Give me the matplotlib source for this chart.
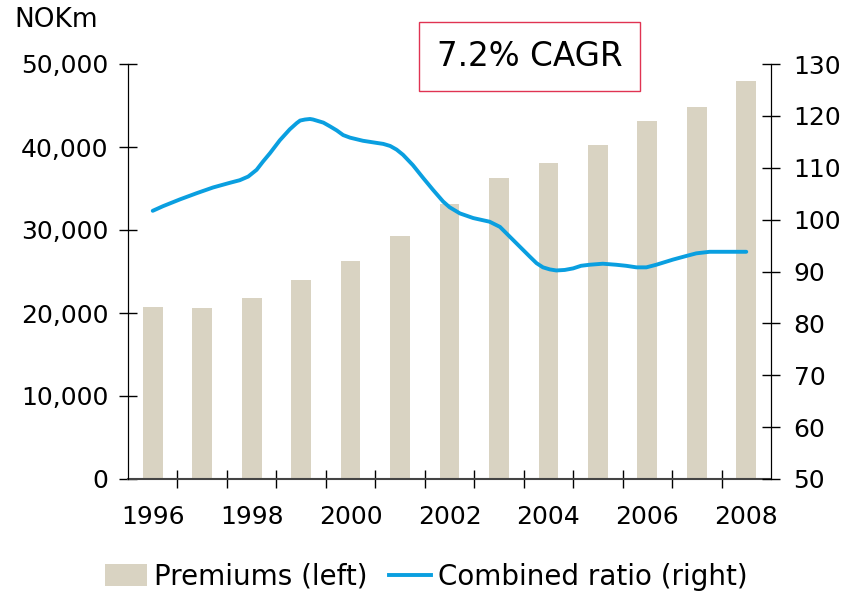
import matplotlib
matplotlib.use("Agg")
import matplotlib.pyplot as plt
from matplotlib.patches import Patch, Rectangle
from matplotlib.lines import Line2D
from matplotlib.ticker import FuncFormatter
import numpy as np

# premiums per year (NOKm, left axis)
years = [1996, 1997, 1998, 1999, 2000, 2001, 2002, 2003, 2004, 2005, 2006, 2007, 2008]
premiums = [20700, 20600, 21800, 24000, 26300, 29300, 33100, 36300, 38100, 40300, 43100, 44800, 48000]
year_labels = ["1996", "1998", "2000", "2002", "2004", "2006", "2008"]

# combined ratio (%, right axis), sampled along the smoothed curve
ratio_t = [1996.00, 1996.21, 1996.55, 1996.89, 1997.22, 1997.56, 1997.76, 1997.93,
           1998.10, 1998.23, 1998.37, 1998.57, 1998.77, 1998.91, 1998.98, 1999.08,
           1999.18, 1999.24, 1999.45, 1999.58, 1999.72, 1999.85, 1999.99, 2000.25,
           2000.52, 2000.66, 2000.80, 2000.93, 2001.06, 2001.26, 2001.47, 2001.67,
           2001.87, 2002.00, 2002.21, 2002.48, 2002.81, 2003.02, 2003.22, 2003.42,
           2003.62, 2003.76, 2003.89, 2004.03, 2004.16, 2004.33, 2004.50, 2004.66,
           2004.83, 2005.10, 2005.37, 2005.57, 2005.78, 2005.98, 2006.18, 2006.52,
           2006.79, 2006.99, 2007.26, 2007.53, 2008.00]
ratio = [101.7, 102.6, 103.9, 105.1, 106.2, 107.1, 107.6, 108.3,
         109.6, 111.2, 112.8, 115.3, 117.4, 118.6, 119.1, 119.3,
         119.4, 119.3, 118.7, 118.0, 117.2, 116.3, 115.8, 115.2,
         114.8, 114.6, 114.2, 113.5, 112.5, 110.5, 108.0, 105.7,
         103.5, 102.4, 101.2, 100.3, 99.6, 98.6, 96.7, 94.8,
         92.9, 91.6, 90.8, 90.4, 90.2, 90.3, 90.6, 91.1,
         91.3, 91.5, 91.3, 91.1, 90.8, 90.8, 91.3, 92.3,
         93.0, 93.5, 93.8, 93.8, 93.8]

cagr_text = "7.2% CAGR"
bar_color = "#d9d3c2"
line_color = "#0a9fe0"
fs = 18

plt.rcParams["font.family"] = ["DejaVu Sans"]

fig = plt.figure(figsize=(8.44, 5.95), dpi=100)
ax = fig.add_axes([128 / 844, 1 - 479 / 595, 643 / 844, 415 / 595])

x = np.arange(len(years))
ax.bar(x, premiums, width=0.40, color=bar_color, zorder=2)
ax.set_xlim(-0.5, len(years) - 0.5)
ax.set_ylim(0, 50000)
ax.set_yticks(np.arange(0, 50001, 10000))
ax.yaxis.set_major_formatter(FuncFormatter(lambda v, p: f"{int(v):,}"))

# labels on every other year, tick marks between categories
ax.set_xticks(x[::2])
ax.set_xticklabels(year_labels)
ax.set_xticks(x[:-1] + 0.5, minor=True)
ax.tick_params(axis="x", which="major", length=0, pad=19, labelsize=fs)
ax.tick_params(axis="x", which="minor", direction="inout", length=12.5, width=1.0)
ax.tick_params(axis="y", direction="inout", length=12.5, width=1.0, pad=8, labelsize=fs)

ax.spines["top"].set_visible(False)
ax.spines["bottom"].set_color("#444444")
ax.spines["bottom"].set_linewidth(1.5)

ax2 = ax.twinx()
ax2.plot(np.array(ratio_t) - years[0], ratio, color=line_color, lw=2.8,
         solid_joinstyle="round", solid_capstyle="round")
ax2.set_ylim(50, 130)
ax2.set_yticks(np.arange(50, 131, 10))
ax2.tick_params(axis="y", direction="inout", length=12.5, width=1.0, pad=10, labelsize=fs)
ax2.spines["top"].set_visible(False)
ax2.spines["bottom"].set_visible(False)

fig.text(14 / 844, 1 - 20 / 595, "NOKm", fontsize=19, va="center", ha="left")

# CAGR callout box
fig.patches.append(Rectangle((419 / 844, 1 - 91 / 595), 221 / 844, 69 / 595,
                             transform=fig.transFigure, facecolor="white",
                             edgecolor="#e03352", lw=1.0, zorder=5))
fig.text(530 / 844, 1 - 57 / 595, cagr_text, fontsize=23.5, ha="center", va="center", zorder=6)

handles = [Patch(facecolor=bar_color, edgecolor="none", label="Premiums (left)"),
           Line2D([0], [0], color=line_color, lw=2.8, label="Combined ratio (right)")]
fig.legend(handles=handles, loc="center", bbox_to_anchor=(0.505, 1 - 577 / 595), ncol=2,
           frameon=False, fontsize=20, handlelength=1.5, handleheight=0.85,
           handletextpad=0.25, columnspacing=0.8, borderaxespad=0)

fig.savefig("out.png", dpi=100)
